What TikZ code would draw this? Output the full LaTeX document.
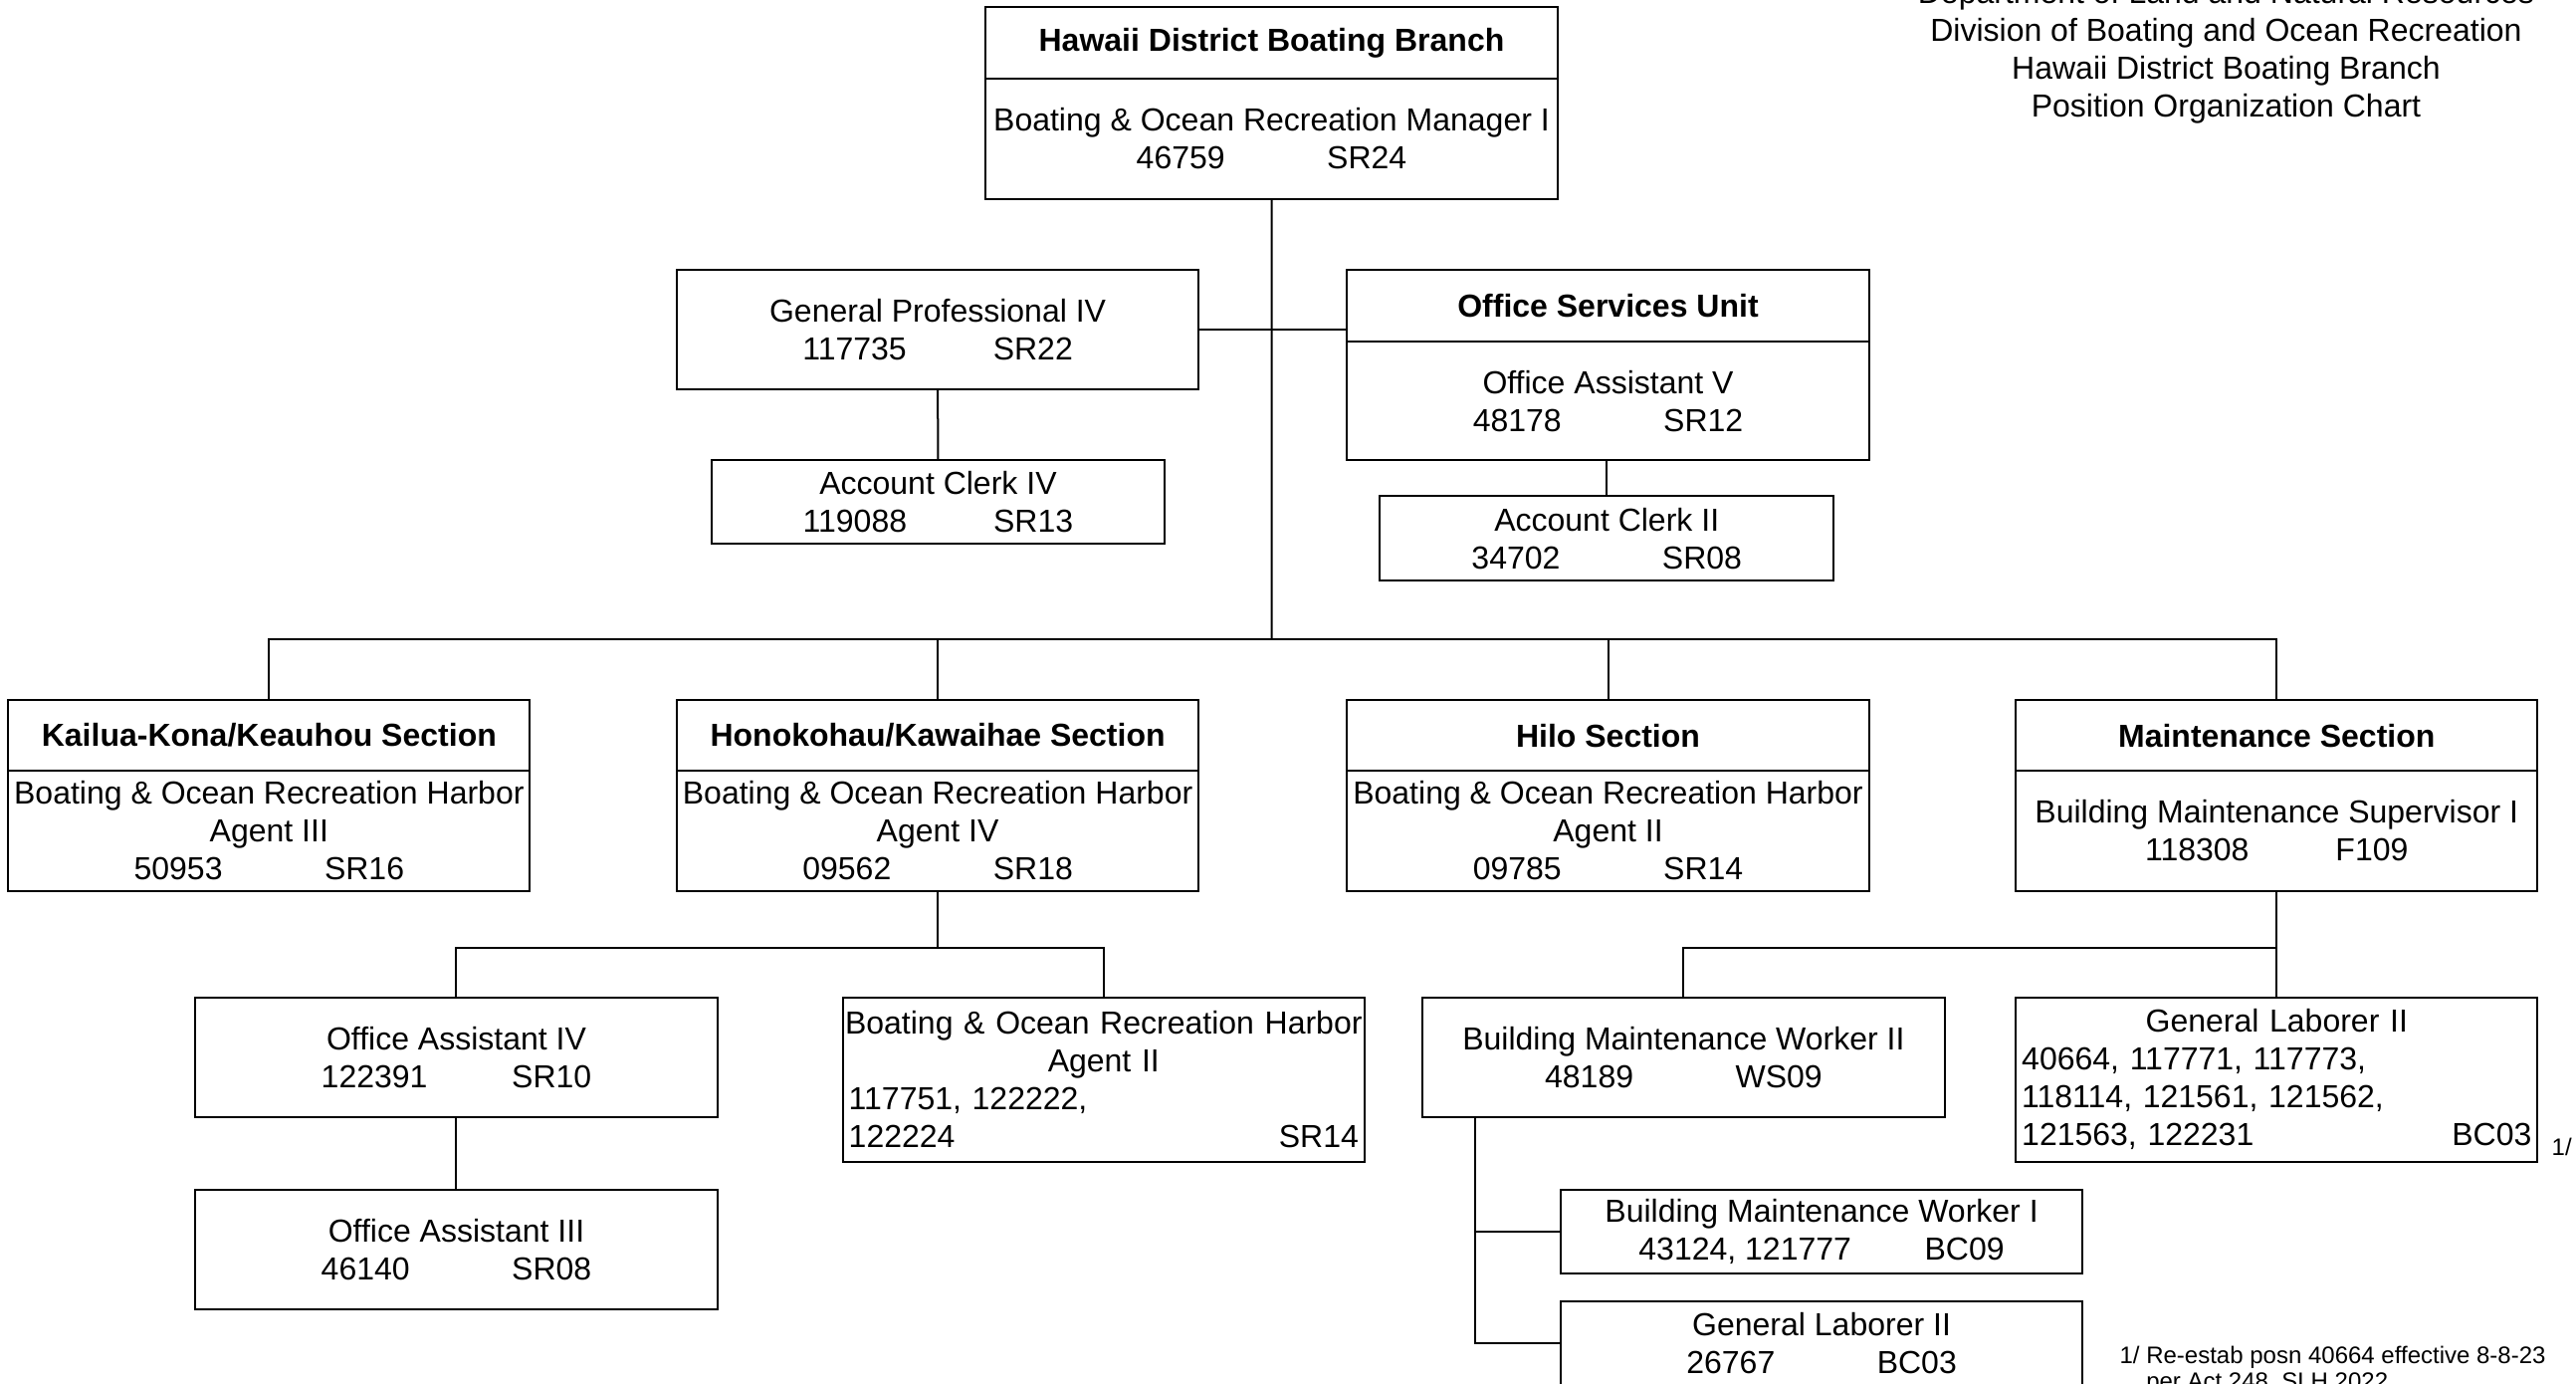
\documentclass[tikz,border=0pt]{standalone}
\usepackage{fontspec}
\setmainfont{Liberation Sans}
\usetikzlibrary{calc}
\tikzset{
  box/.style={draw, line width=1pt, rectangle, inner sep=0pt, outer sep=0pt,
    anchor=north west, align=center, font=\fontsize{16}{19}\selectfont},
  wbox/.style={box, minimum width=262pt},
  conn/.style={line width=1pt},
  hdrtext/.style={font=\fontsize{16}{19}\selectfont, align=center, inner sep=0pt},
  notetext/.style={font=\fontsize{12}{13.2}\selectfont, align=left, inner sep=0pt},
}
\newcommand\pg[3][95.7pt]{\makebox[#1][l]{#2}#3}
\begin{document}
\begin{tikzpicture}[x=0.825pt,y=-0.825pt]
\fill[white] (0,0) rectangle (1568,842);
\useasboundingbox (0,0) rectangle (1568,842);

% top
\node[box, minimum width=287.1pt, minimum height=36.3pt] (topT) at (600,4) {\textbf{Hawaii District Boating Branch}};
\node[box, minimum width=287.1pt, minimum height=60.2pt] (topB) at (600,48) {Boating \& Ocean Recreation Manager I\\\pg{46759}{SR24}};

% staff
\node[wbox, minimum height=60.2pt] (gp4) at (412,164) {General Professional IV\\\pg{117735}{SR22}};
\node[box, minimum width=227.7pt, minimum height=42.1pt] (ac4) at (433,280) {Account Clerk IV\\\pg{119088}{SR13}};
\node[wbox, minimum height=36.3pt] (osuT) at (820,164) {\textbf{Office Services Unit}};
\node[wbox, minimum height=59.4pt] (osuB) at (820,208) {Office Assistant V\\\pg{48178}{SR12}};
\node[box, minimum width=227.7pt, minimum height=42.1pt] (ac2) at (840,302) {Account Clerk II\\\pg{34702}{SR08}};

% sections
\node[wbox, minimum height=35.5pt] (kkT) at (5,426) {\textbf{Kailua-Kona/Keauhou Section}};
\node[wbox, minimum height=60.2pt] (kkB) at (5,469) {Boating \& Ocean Recreation Harbor\\Agent III\\\pg{50953}{SR16}};
\node[wbox, minimum height=35.5pt] (hkT) at (412,426) {\textbf{Honokohau/Kawaihae Section}};
\node[wbox, minimum height=60.2pt] (hkB) at (412,469) {Boating \& Ocean Recreation Harbor\\Agent IV\\\pg{09562}{SR18}};
\node[wbox, minimum height=35.5pt] (hiT) at (820,426) {\textbf{Hilo Section}};
\node[wbox, minimum height=60.2pt] (hiB) at (820,469) {Boating \& Ocean Recreation Harbor\\Agent II\\\pg{09785}{SR14}};
\node[wbox, minimum height=35.5pt] (mT) at (1227,426) {\textbf{Maintenance Section}};
\node[wbox, minimum height=60.2pt] (mB) at (1227,469) {Building Maintenance Supervisor I\\\pg{118308}{F109}};

% lower level
\node[wbox, minimum height=60.2pt] (oa4) at (119,607) {Office Assistant IV\\\pg{122391}{SR10}};
\node[wbox, minimum height=60.2pt] (oa3) at (119,724) {Office Assistant III\\\pg{46140}{SR08}};
\node[wbox, minimum height=82.5pt, text width=256pt, align=left] (bo2) at (513,607)
  {\makebox[256pt][c]{Boating \& Ocean Recreation Harbor}\\\makebox[256pt][c]{Agent II}\\117751, 122222,\\122224\hfill SR14\hspace*{8pt}};
\node[wbox, minimum height=60.2pt] (bmw2) at (866,607) {Building Maintenance Worker II\\\pg{48189}{WS09}};
\node[wbox, minimum height=82.5pt, text width=256pt, align=left] (glR) at (1227,607)
  {\makebox[256pt][c]{General Laborer II}\\40664, 117771, 117773,\\118114, 121561, 121562,\\121563, 122231\hfill BC03\hspace*{8pt}};
\node[wbox, minimum height=42.1pt] (bmw1) at (950,724) {Building Maintenance Worker I\\\pg[143.6pt]{43124, 121777}{BC09}};
\node[wbox, minimum height=42.1pt] (glB) at (950,792) {General Laborer II\\\pg{26767}{BC03}};

% texts
\node[hdrtext] (hdr) at (1355,31.5) {Department of Land and Natural Resources\\Division of Boating and Ocean Recreation\\Hawaii District Boating Branch\\Position Organization Chart};
\node[notetext, anchor=west] (fn) at (1290,834) {1/ Re-estab posn 40664 effective 8-8-23\\\hphantom{1/ }per Act 248, SLH 2022};
\node[notetext, anchor=base west] (fnmark) at (1553,703) {1/};

% connectors
\coordinate (bus) at (774,389);
\draw[conn] (topB.south) -- (bus);
\draw[conn] (gp4.east) -- (gp4.east -| osuT.west);
\draw[conn] (gp4.south) -- (ac4.north);
\draw[conn] (ac2.north) -- (ac2.north |- osuB.south);
\draw[conn] (kkT.north) |- (bus) -| (mT.north);
\draw[conn] (hkT.north) -- (hkT.north |- bus);
\draw[conn] (hiT.north) -- (hiT.north |- bus);
\coordinate (hkj) at ($(hkB.south)+(0,35)$);
\draw[conn] (hkB.south) -- (hkj);
\draw[conn] (oa4.north) |- (hkj) -| (bo2.north);
\draw[conn] (oa4.south) -- (oa3.north);
\coordinate (mj) at ($(mB.south)+(0,35)$);
\draw[conn] (mB.south) -- (glR.north);
\draw[conn] (bmw2.north) |- (mj);
\coordinate (bmwj) at ([xshift=26.4pt]bmw2.south west);
\draw[conn] (bmwj) |- (bmw1.west);
\draw[conn] (bmwj) |- (glB.west);
\end{tikzpicture}
\end{document}
